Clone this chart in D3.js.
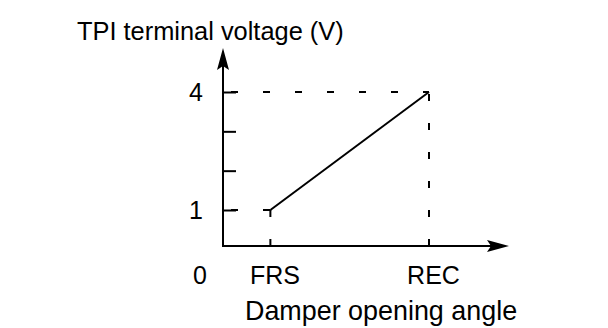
<!DOCTYPE html>
<html>
<head>
<meta charset="utf-8">
<script src="https://cdn.jsdelivr.net/npm/d3@7.9.0/dist/d3.min.js"></script>
<style>
  body { margin: 0; background: #fff; }
  svg { display: block; font-family: "Liberation Sans", Arial, sans-serif; }
  text { fill: #000; }
</style>
</head>
<body>
<svg id="chart" width="608" height="328"></svg>
<script>
// chart values
const voltTicks = [1, 2, 3, 4];
const voltLabels = ["1", "", "", "4"];
const angleCats = ["FRS", "REC"];
const anglePos = [0.23, 1];   // relative damper opening (0 = origin)
const voltage = [1, 4];
const originLabel = "0";
const yTitle = "TPI terminal voltage (V)";
const xTitle = "Damper opening angle";

const svg = d3.select('#chart');

// plot frame
const plotLeft = 223, plotBottom = 246, plotTop = 48, plotRight = 509;

const x = d3.scaleLinear().domain([0, 1]).range([plotLeft, 429]);
const y = d3.scaleLinear().domain([1, 4]).range([210, 92]);

const pts = anglePos.map((p, i) => ({ cat: angleCats[i], x: x(p), y: y(voltage[i]) }));

// dashed guide lines
pts.forEach(d => {
  svg.append('line')
    .attr('x1', plotLeft).attr('y1', d.y)
    .attr('x2', d.x).attr('y2', d.y)
    .attr('stroke', '#000').attr('stroke-width', 2)
    .attr('stroke-dasharray', '7,25')
    .attr('stroke-dashoffset', -8);
  svg.append('line')
    .attr('x1', d.x).attr('y1', plotBottom)
    .attr('x2', d.x).attr('y2', d.y)
    .attr('stroke', '#000').attr('stroke-width', 2)
    .attr('stroke-dasharray', '7,22');
});

// y axis ticks + labels
svg.append('g')
  .attr('transform', `translate(${plotLeft},0)`)
  .call(d3.axisLeft(y)
    .tickValues(voltTicks)
    .tickSizeInner(-13)
    .tickSizeOuter(0)
    .tickPadding(20)
    .tickFormat((d, i) => voltLabels[i]))
  .call(g => g.select('.domain').remove())
  .call(g => g.selectAll('line').attr('stroke', '#000').attr('stroke-width', 2))
  .call(g => g.selectAll('text').attr('font-size', 25).attr('font-family', null).attr('fill', '#000'));

// x axis labels
svg.append('g')
  .attr('transform', `translate(0,${plotBottom})`)
  .call(d3.axisBottom(x)
    .tickValues(anglePos)
    .tickSize(0)
    .tickPadding(20)
    .tickFormat((d, i) => angleCats[i]))
  .call(g => g.select('.domain').remove())
  .call(g => g.selectAll('text').attr('font-size', 25).attr('font-family', null).attr('fill', '#000').attr('dx', 4));

// axes lines with arrow heads
svg.append('line')
  .attr('x1', plotLeft).attr('y1', plotBottom + 1)
  .attr('x2', plotLeft).attr('y2', plotTop + 14)
  .attr('stroke', '#000').attr('stroke-width', 2);
svg.append('line')
  .attr('x1', plotLeft - 1).attr('y1', plotBottom)
  .attr('x2', plotRight - 14).attr('y2', plotBottom)
  .attr('stroke', '#000').attr('stroke-width', 2);

svg.append('path')
  .attr('d', `M${plotLeft},${plotTop} L${plotLeft + 6},${plotTop + 22} L${plotLeft},${plotTop + 18} L${plotLeft - 6},${plotTop + 22} Z`)
  .attr('fill', '#000');
svg.append('path')
  .attr('d', `M${plotRight},${plotBottom} L${plotRight - 22},${plotBottom - 6} L${plotRight - 18},${plotBottom} L${plotRight - 22},${plotBottom + 6} Z`)
  .attr('fill', '#000');

// data line
svg.append('path')
  .datum(pts)
  .attr('d', d3.line().x(d => d.x).y(d => d.y))
  .attr('fill', 'none')
  .attr('stroke', '#000')
  .attr('stroke-width', 2);

// origin label
svg.append('text')
  .attr('x', 200).attr('y', plotBottom + 20)
  .attr('dy', '0.71em')
  .attr('text-anchor', 'middle')
  .attr('font-size', 25)
  .text(originLabel);

// titles
svg.append('text')
  .attr('x', 77).attr('y', 40)
  .attr('font-size', 25.4)
  .text(yTitle);

svg.append('text')
  .attr('x', 245).attr('y', 320)
  .attr('font-size', 26.9)
  .text(xTitle);
</script>
</body>
</html>
